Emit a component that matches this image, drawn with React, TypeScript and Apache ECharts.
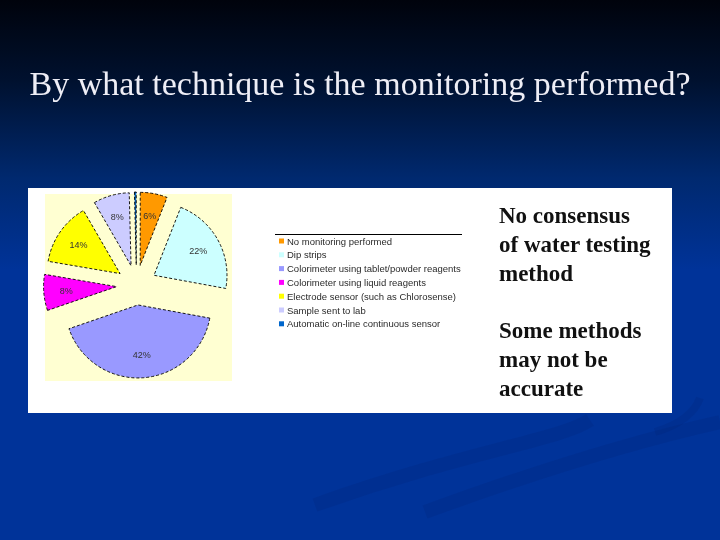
import {useEffect, useRef} from 'react';
import * as echarts from 'echarts';

const methods = [
    'No monitoring performed',
    'Dip strips',
    'Colorimeter using tablet/powder reagents',
    'Colorimeter using liquid reagents',
    'Electrode sensor (such as Chlorosense)',
    'Sample sent to lab',
    'Automatic on-line continuous sensor',
];
const shares = [6, 22, 42, 8, 14, 8, 0.4];
const sliceColors = ['#FF9900', '#CCFFFF', '#9999FF', '#FF00FF', '#FFFF00', '#CCCCFF', '#0066CC'];

const titleText = 'By what technique is the monitoring performed?';
const noteText = 'No consensus\nof water testing\nmethod\n\nSome methods\nmay not be\naccurate';

const App = () => {
    const chartRef = useRef<HTMLDivElement>(null);

    useEffect(() => {
        const myChart = echarts.init(chartRef.current!, null, {renderer: 'svg'});

        const pieData = methods.map((name, i) => ({
            name,
            value: shares[i],
            selected: true,
            itemStyle: {color: sliceColors[i]},
        }));

        const swoosh = 'rgba(0, 25, 100, 0.14)';

        const option = {
            animation: false,
            title: {
                text: titleText,
                left: 'center',
                top: 61,
                textStyle: {
                    fontFamily: 'Liberation Serif',
                    fontSize: 34,
                    fontWeight: 'normal',
                    color: '#EEEEF6',
                },
            },
            graphic: [
                {
                    type: 'rect',
                    z: -10,
                    shape: {x: 0, y: 0, width: 720, height: 540},
                    style: {
                        fill: new echarts.graphic.LinearGradient(0, 0, 0, 1, [
                            {offset: 0, color: '#00030c'},
                            {offset: 0.15, color: '#00112f'},
                            {offset: 0.33, color: '#00296f'},
                            {offset: 0.5, color: '#003399'},
                            {offset: 1, color: '#003399'},
                        ]),
                    },
                },
                // faint swooshes in the bottom right of the slide
                {
                    type: 'bezierCurve',
                    z: -9,
                    shape: {x1: 315, y1: 505, x2: 590, y2: 420, cpx1: 470, cpy1: 450, cpx2: 560, cpy2: 440},
                    style: {stroke: swoosh, lineWidth: 14, fill: null},
                },
                {
                    type: 'bezierCurve',
                    z: -9,
                    shape: {x1: 425, y1: 512, x2: 720, y2: 422, cpx1: 540, cpy1: 470, cpx2: 640, cpy2: 440},
                    style: {stroke: swoosh, lineWidth: 14, fill: null},
                },
                {
                    type: 'bezierCurve',
                    z: -9,
                    shape: {x1: 655, y1: 432, x2: 700, y2: 398, cpx1: 680, cpy1: 425, cpx2: 695, cpy2: 412},
                    style: {stroke: swoosh, lineWidth: 8, fill: null},
                },
                {
                    type: 'rect',
                    z: -8,
                    shape: {x: 28, y: 188, width: 644, height: 225},
                    style: {fill: '#FFFFFF'},
                },
                {
                    type: 'rect',
                    z: -7,
                    shape: {x: 45, y: 194, width: 187, height: 187},
                    style: {fill: '#FFFFD2'},
                },
                {
                    type: 'line',
                    z: -7,
                    shape: {x1: 275, y1: 234.5, x2: 462, y2: 234.5},
                    style: {stroke: '#000', lineWidth: 1.2},
                },
                {
                    type: 'text',
                    x: 499,
                    y: 201,
                    style: {
                        text: noteText,
                        fontFamily: 'Liberation Serif',
                        fontSize: 23,
                        fontWeight: 'bold',
                        lineHeight: 28.8,
                        fill: '#111',
                        verticalAlign: 'top',
                    },
                },
            ],
            legend: {
                orient: 'vertical',
                left: 279,
                top: 231,
                padding: [5, 5, 5, 0],
                data: methods,
                icon: 'rect',
                itemWidth: 5,
                itemHeight: 5,
                itemGap: 3.8,
                selectedMode: false,
                itemStyle: {borderWidth: 0},
                textStyle: {
                    fontFamily: 'Liberation Sans',
                    fontSize: 9.5,
                    lineHeight: 10,
                    color: '#2a2a2a',
                    padding: [0, 0, 0, -2],
                },
            },
            series: [
                {
                    type: 'pie',
                    center: [136.5, 285],
                    radius: [0, 73],
                    startAngle: 90,
                    clockwise: true,
                    selectedMode: 'multiple',
                    selectedOffset: 20,
                    silent: true,
                    label: {show: false},
                    labelLine: {show: false},
                    itemStyle: {
                        borderColor: '#000',
                        borderWidth: 0.9,
                        borderType: [3, 2],
                    },
                    data: pieData,
                },
                {
                    // label carrier: same slices, larger radius so the labels sit further out
                    type: 'pie',
                    center: [136.5, 285],
                    radius: [0, 95],
                    startAngle: 90,
                    clockwise: true,
                    selectedMode: 'multiple',
                    selectedOffset: 20,
                    silent: true,
                    itemStyle: {color: 'transparent', borderWidth: 0},
                    label: {
                        show: true,
                        position: 'inside',
                        fontFamily: 'Liberation Sans',
                        fontSize: 9,
                        color: '#333',
                        formatter: (p: any) => (p.value < 1 ? '' : `${p.value}%`),
                    },
                    labelLine: {show: false},
                    data: methods.map((name, i) => ({name, value: shares[i], selected: true})),
                },
            ],
        };

        myChart.setOption(option as any);

        return () => {
            myChart.dispose();
        };
    }, []);

    return (
        <div
            ref={chartRef}
            style={{position: 'fixed', left: 0, top: 0, width: '720px', height: '540px'}}
        />
    );
};

export default App;
